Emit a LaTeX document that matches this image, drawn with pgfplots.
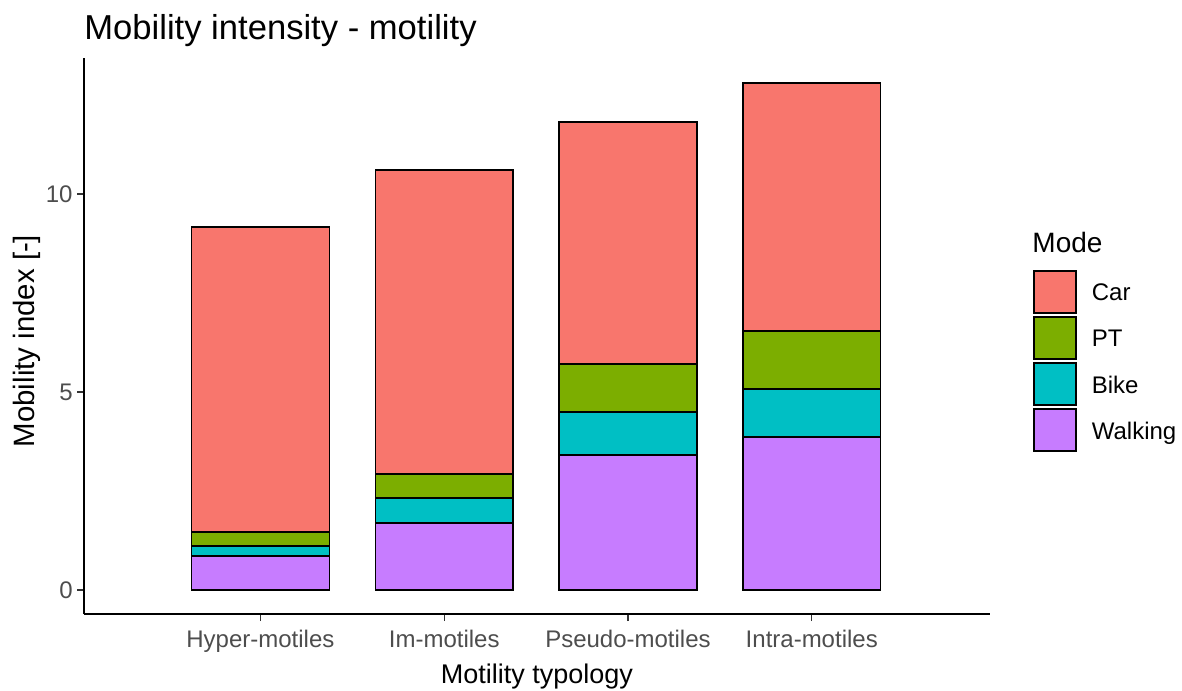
\documentclass[border=0pt]{standalone}
\usepackage{pgfplots}
\pgfplotsset{compat=1.18}
\usepackage{pgfplotstable}
\usepackage{fontspec}
\setmainfont{Liberation Sans}

\definecolor{carcol}{HTML}{F8766D}
\definecolor{ptcol}{HTML}{7CAE00}
\definecolor{bikecol}{HTML}{00BFC4}
\definecolor{walkcol}{HTML}{C77CFF}
\definecolor{ticktext}{HTML}{4D4D4D}

% segment heights per mode (stacked: walking, bike, PT, car)
\pgfplotstableread{
x walk bike pt car
1 0.86 0.25 0.35 7.71
2 1.69 0.63 0.61 7.68
3 3.41 1.08 1.22 6.11
4 3.86 1.22 1.46 6.26
}\mobtable

\begin{document}
\begin{tikzpicture}
  \begin{axis}[
    at={(0,0)}, anchor=south west,
    scale only axis,
    width=453pt, height=278pt,
    clip=false,
    ybar stacked,
    bar width=0.75,
    xmin=0.04, xmax=4.97,
    ymin=-0.606, ymax=13.434,
    axis lines=left,
    axis line style={-, line width=0.6pt, black},
    xtick={1,2,3,4},
    xticklabels={Hyper-motiles,Im-motiles,Pseudo-motiles,Intra-motiles},
    ytick={0,5,10},
    tick align=outside,
    major tick length=3.5pt,
    tick style={line width=0.6pt, black!80},
    /pgf/number format/assume math mode=true,
    ticklabel style={font=\fontsize{12}{14}\selectfont, text=ticktext},
    xticklabel style={anchor=base, inner sep=0pt, yshift=-13pt},
    yticklabel style={anchor=east, inner sep=0pt, xshift=-2pt},
    title={Mobility intensity - motility},
    title style={at={(0,1)}, anchor=base west, yshift=3pt, inner sep=0pt,
      font=\fontsize{17.3}{20}\selectfont},
    xlabel={Motility typology},
    xlabel style={at={(axis description cs:0.5,0)}, anchor=base, yshift=-34.5pt,
      inner sep=0pt, font=\fontsize{13.5}{16}\selectfont},
    ylabel={Mobility index [-]},
    ylabel style={at={(axis description cs:0,0.491)}, anchor=base, yshift=24.5pt,
      inner sep=0pt, font=\fontsize{14.7}{17}\selectfont},
    reverse legend,
    legend style={at={(1.0475,0.6187)}, anchor=north west, draw=none, fill=none,
      inner sep=0pt, row sep=1.3pt, font=\fontsize{12}{14}\selectfont,
      cells={anchor=west},
      /tikz/every odd column/.append style={column sep=5.5pt}},
    legend cell align=left,
    mybar/.style={draw=black, line width=0.7pt,
      legend image code/.code={\draw[##1, line width=0.7pt] (0pt,-9.5pt) rectangle (21pt,11.5pt);}},
  ]
    \addplot[mybar, fill=walkcol] table[x=x, y=walk] {\mobtable};
    \addlegendentry{Walking}
    \addplot[mybar, fill=bikecol] table[x=x, y=bike] {\mobtable};
    \addlegendentry{Bike}
    \addplot[mybar, fill=ptcol] table[x=x, y=pt] {\mobtable};
    \addlegendentry{PT}
    \addplot[mybar, fill=carcol] table[x=x, y=car] {\mobtable};
    \addlegendentry{Car}

    \node[anchor=base west, inner sep=0pt, font=\fontsize{14}{16}\selectfont]
      at (axis description cs:1.0464,0.651) {Mode};
  \end{axis}
  \path[use as bounding box] (-42pt,-38pt) rectangle (549pt,307pt);
\end{tikzpicture}
\end{document}
